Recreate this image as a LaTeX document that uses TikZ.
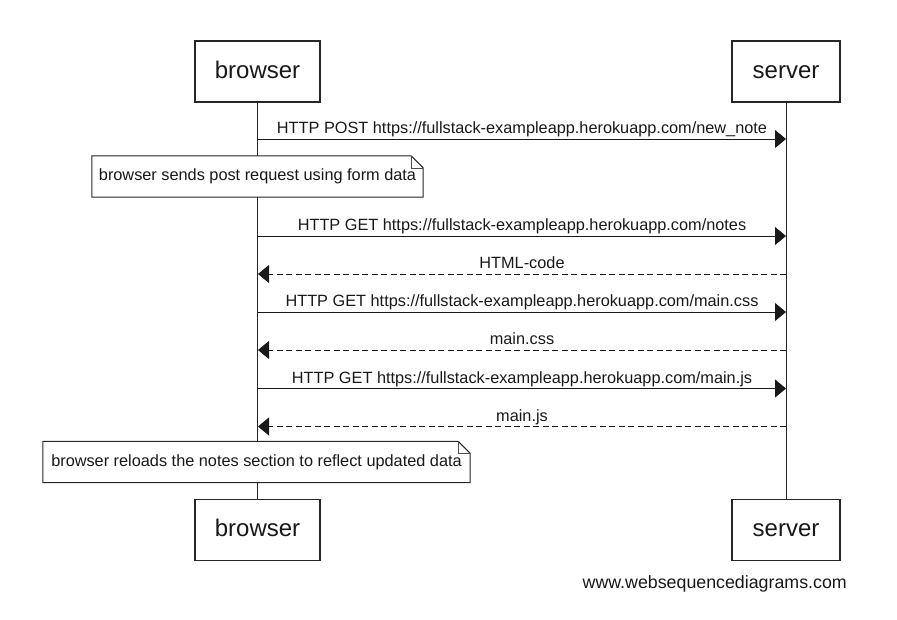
\documentclass[tikz,border=0pt]{standalone}
\usepackage{fontspec}
\setmainfont{Liberation Sans}
\usetikzlibrary{arrows.meta, positioning}

\begin{document}
\begin{tikzpicture}[x=1pt, y=-1pt]
\tikzstyle{actor} = [rectangle, draw=black!85, fill=white,
    line width=1.1pt, minimum height=61pt, inner sep=0pt,
    text height=18pt, text depth=5pt,
    text=black!90, font=\fontsize{24}{28}\selectfont]
\tikzstyle{lifeline} = [draw=black!85, line width=1pt]
\tikzstyle{msg} = [draw=black!90, line width=0.9pt,
    -{Triangle[length=11pt, width=18pt]}]
\tikzstyle{reply} = [msg, dash pattern=on 6pt off 3.5pt]
\tikzstyle{msgtext} = [above, inner sep=0pt, text depth=0pt,
    yshift=5pt, text=black!90, font=\fontsize{16.3}{19}\selectfont]
\tikzstyle{notetext} = [rectangle, inner sep=0pt, minimum height=41pt,
    text=black!90, font=\fontsize{16.3}{19}\selectfont]
\tikzstyle{notebox} = [draw=black!85, fill=white, line width=1pt]

\useasboundingbox (0,0) rectangle (897,619);

% participants, top and bottom
\node (browser) [actor, minimum width=125pt] at (257.5,71.5) {browser};
\node (server) [actor, minimum width=108pt] at (786,71.5) {server};
\node (browserEnd) [actor, minimum width=125pt] at (257.5,530) {browser};
\node (serverEnd) [actor, minimum width=108pt] at (786,530) {server};

\draw [lifeline] (browser.south) -- (browserEnd.north);
\draw [lifeline] (server.south) -- (serverEnd.north);

% message end points on the lifelines
\coordinate (bPost) at (258,139);   \coordinate (sPost) at (786,139);
\coordinate (bNotes) at (258,236);  \coordinate (sNotes) at (786,236);
\coordinate (bHtml) at (258,274);   \coordinate (sHtml) at (786,274);
\coordinate (bCss) at (258,312);    \coordinate (sCss) at (786,312);
\coordinate (bCssR) at (258,350);   \coordinate (sCssR) at (786,350);
\coordinate (bJs) at (258,388.5);   \coordinate (sJs) at (786,388.5);
\coordinate (bJsR) at (258,426.5);  \coordinate (sJsR) at (786,426.5);

\draw [msg] (bPost) -- node[msgtext]
    {HTTP POST https://fullstack-exampleapp.herokuapp.com/new\_note} (sPost);

% --- note after the POST ---
\node (sendNote) [notetext, minimum width=331pt] at (257.5,176.5)
    {browser sends post request using form data};
\draw [notebox] (sendNote.north west) -- ([xshift=-12pt]sendNote.north east)
    -- ([yshift=-12pt]sendNote.north east) -- (sendNote.south east)
    -- (sendNote.south west) -- cycle;
\draw [draw=black!70, line width=0.6pt] ([xshift=-12pt]sendNote.north east)
    |- ([yshift=-12pt]sendNote.north east);
\node at (sendNote) [notetext] {browser sends post request using form data};

\draw [msg] (bNotes) -- node[msgtext]
    {HTTP GET https://fullstack-exampleapp.herokuapp.com/notes} (sNotes);
\draw [reply] (sHtml) -- node[msgtext] {HTML-code} (bHtml);
\draw [msg] (bCss) -- node[msgtext]
    {HTTP GET https://fullstack-exampleapp.herokuapp.com/main.css} (sCss);
\draw [reply] (sCssR) -- node[msgtext] {main.css} (bCssR);
\draw [msg] (bJs) -- node[msgtext]
    {HTTP GET https://fullstack-exampleapp.herokuapp.com/main.js} (sJs);
\draw [reply] (sJsR) -- node[msgtext] {main.js} (bJsR);

% --- closing note ---
\node (reloadNote) [notetext, minimum width=427pt] at (256.5,462)
    {browser reloads the notes section to reflect updated data};
\draw [notebox] (reloadNote.north west) -- ([xshift=-12pt]reloadNote.north east)
    -- ([yshift=-12pt]reloadNote.north east) -- (reloadNote.south east)
    -- (reloadNote.south west) -- cycle;
\draw [draw=black!70, line width=0.6pt] ([xshift=-12pt]reloadNote.north east)
    |- ([yshift=-12pt]reloadNote.north east);
\node at (reloadNote) [notetext]
    {browser reloads the notes section to reflect updated data};

\node (credit) [anchor=base east, inner sep=0pt, text=black!90,
    font=\fontsize{17.8}{21}\selectfont] at (847,588) {www.websequencediagrams.com};
\end{tikzpicture}
\end{document}
